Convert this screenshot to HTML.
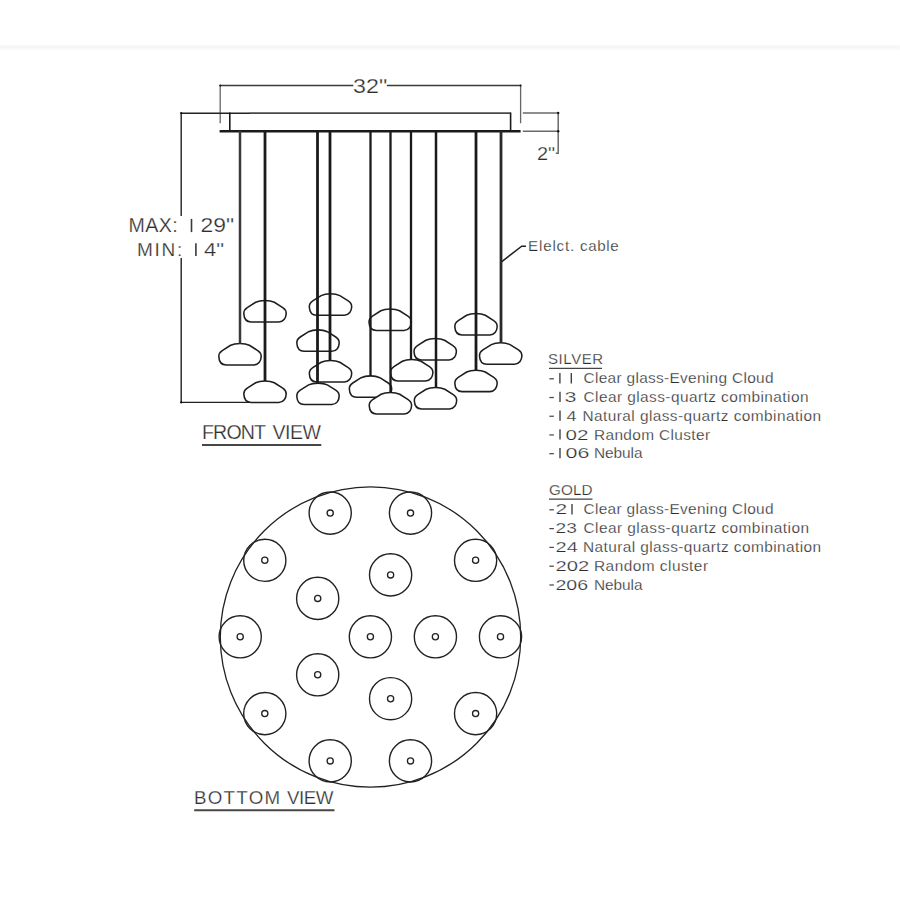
<!DOCTYPE html>
<html><head><meta charset="utf-8"><style>
html,body{margin:0;padding:0;background:#fff;width:900px;height:900px;overflow:hidden}
svg{display:block}
text{font-family:"Liberation Sans",sans-serif;stroke:#fff;stroke-width:0.25px}
</style></head><body>
<svg width="900" height="900" viewBox="0 0 900 900">
<defs><linearGradient id="bg1" x1="0" y1="0" x2="0" y2="1"><stop offset="0" stop-color="#f5f5f5"/><stop offset="0.5" stop-color="#f6f6f6"/><stop offset="1" stop-color="#fcfcfc"/></linearGradient></defs>
<rect x="0" y="45.5" width="900" height="4.5" fill="url(#bg1)"/>
<path d="M220.2 85.5 H353.3 M386.9 85.5 H520.7" stroke="#3a3a3a" stroke-width="1.3" fill="none"/>
<path d="M220.2 85 V123.3 M520.6 85 V123.3" stroke="#666" stroke-width="1.3" fill="none"/>
<path d="M180.5 113.2 H250 M181.2 113.2 V216 M181.2 258 V402.4 M180.5 402.4 H262" stroke="#222" stroke-width="1.4" fill="none"/>
<path d="M522.8 112.9 H558.2 M522.8 131.3 H558.2 M558.2 112.9 V153.3 H555.8" stroke="#6a6a6a" stroke-width="1.5" fill="none"/>
<circle cx="558.2" cy="113" r="1.2" fill="#111"/><circle cx="558.2" cy="131.3" r="1.2" fill="#111"/><circle cx="220.2" cy="85.5" r="1" fill="#111"/><circle cx="181.2" cy="113.2" r="1.1" fill="#111"/><circle cx="181.2" cy="402.4" r="1.1" fill="#111"/><circle cx="520.6" cy="85.5" r="1" fill="#111"/>
<path d="M501.5 261.8 L521.7 246.2 H526" stroke="#222" stroke-width="1.5" fill="none"/>
<g stroke="#1a1a1a" fill="none">
<path d="M249.5 113.2 H510.6" stroke="#484848" stroke-width="1.8"/>
<path d="M229.8 131 V112.5 M510.6 112.5 V131" stroke-width="1.6"/>
<path d="M219.6 131.3 H520.6" stroke-width="2.4"/>
</g>
<g stroke="#1e1e1e" stroke-width="1.55" fill="#fff">
<path transform="translate(243.85 300.50)" d="M21.15 0 C25 0 27.5 0.3 30.5 1.8 L38.9 7.1 C41.7 8.9 42.5 11 42.3 13.5 C42.1 17 40 21.4 35 21.4 L7.3 21.4 C2.3 21.4 0.2 17.4 0 13.4 C-0.2 10.9 0.6 8.9 3.4 7.1 L11.8 1.8 C14.8 0.3 17.3 0 21.15 0 Z"/>
<path transform="translate(218.85 343.50)" d="M21.15 0 C25 0 27.5 0.3 30.5 1.8 L38.9 7.1 C41.7 8.9 42.5 11 42.3 13.5 C42.1 17 40 21.4 35 21.4 L7.3 21.4 C2.3 21.4 0.2 17.4 0 13.4 C-0.2 10.9 0.6 8.9 3.4 7.1 L11.8 1.8 C14.8 0.3 17.3 0 21.15 0 Z"/>
<path transform="translate(243.85 381.00)" d="M21.15 0 C25 0 27.5 0.3 30.5 1.8 L38.9 7.1 C41.7 8.9 42.5 11 42.3 13.5 C42.1 17 40 21.4 35 21.4 L7.3 21.4 C2.3 21.4 0.2 17.4 0 13.4 C-0.2 10.9 0.6 8.9 3.4 7.1 L11.8 1.8 C14.8 0.3 17.3 0 21.15 0 Z"/>
<path transform="translate(309.35 293.80)" d="M21.15 0 C25 0 27.5 0.3 30.5 1.8 L38.9 7.1 C41.7 8.9 42.5 11 42.3 13.5 C42.1 17 40 21.4 35 21.4 L7.3 21.4 C2.3 21.4 0.2 17.4 0 13.4 C-0.2 10.9 0.6 8.9 3.4 7.1 L11.8 1.8 C14.8 0.3 17.3 0 21.15 0 Z"/>
<path transform="translate(296.85 329.90)" d="M21.15 0 C25 0 27.5 0.3 30.5 1.8 L38.9 7.1 C41.7 8.9 42.5 11 42.3 13.5 C42.1 17 40 21.4 35 21.4 L7.3 21.4 C2.3 21.4 0.2 17.4 0 13.4 C-0.2 10.9 0.6 8.9 3.4 7.1 L11.8 1.8 C14.8 0.3 17.3 0 21.15 0 Z"/>
<path transform="translate(309.35 360.50)" d="M21.15 0 C25 0 27.5 0.3 30.5 1.8 L38.9 7.1 C41.7 8.9 42.5 11 42.3 13.5 C42.1 17 40 21.4 35 21.4 L7.3 21.4 C2.3 21.4 0.2 17.4 0 13.4 C-0.2 10.9 0.6 8.9 3.4 7.1 L11.8 1.8 C14.8 0.3 17.3 0 21.15 0 Z"/>
<path transform="translate(296.85 383.10)" d="M21.15 0 C25 0 27.5 0.3 30.5 1.8 L38.9 7.1 C41.7 8.9 42.5 11 42.3 13.5 C42.1 17 40 21.4 35 21.4 L7.3 21.4 C2.3 21.4 0.2 17.4 0 13.4 C-0.2 10.9 0.6 8.9 3.4 7.1 L11.8 1.8 C14.8 0.3 17.3 0 21.15 0 Z"/>
<path transform="translate(369.05 309.00)" d="M21.15 0 C25 0 27.5 0.3 30.5 1.8 L38.9 7.1 C41.7 8.9 42.5 11 42.3 13.5 C42.1 17 40 21.4 35 21.4 L7.3 21.4 C2.3 21.4 0.2 17.4 0 13.4 C-0.2 10.9 0.6 8.9 3.4 7.1 L11.8 1.8 C14.8 0.3 17.3 0 21.15 0 Z"/>
<path transform="translate(414.05 338.50)" d="M21.15 0 C25 0 27.5 0.3 30.5 1.8 L38.9 7.1 C41.7 8.9 42.5 11 42.3 13.5 C42.1 17 40 21.4 35 21.4 L7.3 21.4 C2.3 21.4 0.2 17.4 0 13.4 C-0.2 10.9 0.6 8.9 3.4 7.1 L11.8 1.8 C14.8 0.3 17.3 0 21.15 0 Z"/>
<path transform="translate(454.85 313.50)" d="M21.15 0 C25 0 27.5 0.3 30.5 1.8 L38.9 7.1 C41.7 8.9 42.5 11 42.3 13.5 C42.1 17 40 21.4 35 21.4 L7.3 21.4 C2.3 21.4 0.2 17.4 0 13.4 C-0.2 10.9 0.6 8.9 3.4 7.1 L11.8 1.8 C14.8 0.3 17.3 0 21.15 0 Z"/>
<path transform="translate(479.55 342.80)" d="M21.15 0 C25 0 27.5 0.3 30.5 1.8 L38.9 7.1 C41.7 8.9 42.5 11 42.3 13.5 C42.1 17 40 21.4 35 21.4 L7.3 21.4 C2.3 21.4 0.2 17.4 0 13.4 C-0.2 10.9 0.6 8.9 3.4 7.1 L11.8 1.8 C14.8 0.3 17.3 0 21.15 0 Z"/>
<path transform="translate(390.55 359.50)" d="M21.15 0 C25 0 27.5 0.3 30.5 1.8 L38.9 7.1 C41.7 8.9 42.5 11 42.3 13.5 C42.1 17 40 21.4 35 21.4 L7.3 21.4 C2.3 21.4 0.2 17.4 0 13.4 C-0.2 10.9 0.6 8.9 3.4 7.1 L11.8 1.8 C14.8 0.3 17.3 0 21.15 0 Z"/>
<path transform="translate(349.35 375.90)" d="M21.15 0 C25 0 27.5 0.3 30.5 1.8 L38.9 7.1 C41.7 8.9 42.5 11 42.3 13.5 C42.1 17 40 21.4 35 21.4 L7.3 21.4 C2.3 21.4 0.2 17.4 0 13.4 C-0.2 10.9 0.6 8.9 3.4 7.1 L11.8 1.8 C14.8 0.3 17.3 0 21.15 0 Z"/>
<path transform="translate(369.25 392.50)" d="M21.15 0 C25 0 27.5 0.3 30.5 1.8 L38.9 7.1 C41.7 8.9 42.5 11 42.3 13.5 C42.1 17 40 21.4 35 21.4 L7.3 21.4 C2.3 21.4 0.2 17.4 0 13.4 C-0.2 10.9 0.6 8.9 3.4 7.1 L11.8 1.8 C14.8 0.3 17.3 0 21.15 0 Z"/>
<path transform="translate(414.35 387.50)" d="M21.15 0 C25 0 27.5 0.3 30.5 1.8 L38.9 7.1 C41.7 8.9 42.5 11 42.3 13.5 C42.1 17 40 21.4 35 21.4 L7.3 21.4 C2.3 21.4 0.2 17.4 0 13.4 C-0.2 10.9 0.6 8.9 3.4 7.1 L11.8 1.8 C14.8 0.3 17.3 0 21.15 0 Z"/>
<path transform="translate(454.85 370.20)" d="M21.15 0 C25 0 27.5 0.3 30.5 1.8 L38.9 7.1 C41.7 8.9 42.5 11 42.3 13.5 C42.1 17 40 21.4 35 21.4 L7.3 21.4 C2.3 21.4 0.2 17.4 0 13.4 C-0.2 10.9 0.6 8.9 3.4 7.1 L11.8 1.8 C14.8 0.3 17.3 0 21.15 0 Z"/>
</g>
<g stroke="#1a1a1a" stroke-width="2.8" fill="none">
<path d="M240 131 V343.6" stroke-width="2.5" stroke="#3a3a3a"/>
<path d="M265 131 V381.1" stroke-width="2.8" stroke="#1a1a1a"/>
<path d="M317.5 131 V383.20000000000005" stroke-width="2.8" stroke="#1a1a1a"/>
<path d="M330 131 V360.6" stroke-width="2.8" stroke="#1a1a1a"/>
<path d="M370.5 131 V376.0" stroke-width="2.3" stroke="#1a1a1a"/>
<path d="M390.5 131 V392.6" stroke-width="2.3" stroke="#1a1a1a"/>
<path d="M411 131 V359.6" stroke-width="2.3" stroke="#1a1a1a"/>
<path d="M436 131 V387.6" stroke-width="2.5" stroke="#1a1a1a"/>
<path d="M476 131 V370.3" stroke-width="2.8" stroke="#1a1a1a"/>
<path d="M501 131 V342.90000000000003" stroke-width="2.8" stroke="#2a2a2a"/>
</g>
<g stroke="#222" fill="none">
<circle cx="370.5" cy="637" r="150.2" stroke-width="1.3"/>
<circle cx="330.2" cy="513.1" r="21.1" stroke-width="1.4"/>
<circle cx="330.2" cy="513.1" r="3.1" stroke-width="1.3"/>
<circle cx="410.5" cy="513.1" r="21.1" stroke-width="1.4"/>
<circle cx="410.5" cy="513.1" r="3.1" stroke-width="1.3"/>
<circle cx="264.8" cy="560.3" r="21.1" stroke-width="1.4"/>
<circle cx="264.8" cy="560.3" r="3.1" stroke-width="1.3"/>
<circle cx="475.6" cy="560.3" r="21.1" stroke-width="1.4"/>
<circle cx="475.6" cy="560.3" r="3.1" stroke-width="1.3"/>
<circle cx="390.6" cy="574.9" r="21.1" stroke-width="1.4"/>
<circle cx="390.6" cy="574.9" r="3.1" stroke-width="1.3"/>
<circle cx="317.7" cy="598.4" r="21.1" stroke-width="1.4"/>
<circle cx="317.7" cy="598.4" r="3.1" stroke-width="1.3"/>
<circle cx="240.2" cy="636.8" r="21.1" stroke-width="1.4"/>
<circle cx="240.2" cy="636.8" r="3.1" stroke-width="1.3"/>
<circle cx="370.4" cy="636.8" r="21.1" stroke-width="1.4"/>
<circle cx="370.4" cy="636.8" r="3.1" stroke-width="1.3"/>
<circle cx="435.4" cy="636.8" r="21.1" stroke-width="1.4"/>
<circle cx="435.4" cy="636.8" r="3.1" stroke-width="1.3"/>
<circle cx="500.5" cy="636.8" r="21.1" stroke-width="1.4"/>
<circle cx="500.5" cy="636.8" r="3.1" stroke-width="1.3"/>
<circle cx="317.7" cy="674.8" r="21.1" stroke-width="1.4"/>
<circle cx="317.7" cy="674.8" r="3.1" stroke-width="1.3"/>
<circle cx="390.6" cy="698.7" r="21.1" stroke-width="1.4"/>
<circle cx="390.6" cy="698.7" r="3.1" stroke-width="1.3"/>
<circle cx="264.8" cy="713.6" r="21.1" stroke-width="1.4"/>
<circle cx="264.8" cy="713.6" r="3.1" stroke-width="1.3"/>
<circle cx="475.6" cy="713.6" r="21.1" stroke-width="1.4"/>
<circle cx="475.6" cy="713.6" r="3.1" stroke-width="1.3"/>
<circle cx="330.2" cy="760.9" r="21.1" stroke-width="1.4"/>
<circle cx="330.2" cy="760.9" r="3.1" stroke-width="1.3"/>
<circle cx="410.5" cy="760.9" r="21.1" stroke-width="1.4"/>
<circle cx="410.5" cy="760.9" r="3.1" stroke-width="1.3"/>
</g>
<g stroke="#474747" stroke-width="1.9">
<path d="M202 445 H321.3"/>
<path d="M194.2 810.2 H334.5"/>
</g>
<g stroke="#444" stroke-width="1.2">
<path d="M549 368.4 H602"/>
<path d="M549 499.2 H592.5"/>
</g>
<text x="353.0" y="92.5" font-size="20.64" fill="#2e2e2e" textLength="34.15" lengthAdjust="spacingAndGlyphs">32&quot;</text>
<text x="537.0" y="159.8" font-size="19.04" fill="#2e2e2e" textLength="18.17" lengthAdjust="spacingAndGlyphs">2&quot;</text>
<text x="128.5" y="232.1" font-size="19.62" fill="#2e2e2e" textLength="49.3" lengthAdjust="spacing">MAX:</text>
<path d="M191.5 218.9 V232.1" stroke="#3a3a3a" stroke-width="1.6"/>
<text x="200.5" y="232.1" font-size="19.62" fill="#2e2e2e" textLength="33.61" lengthAdjust="spacingAndGlyphs">29&quot;</text>
<text x="137.0" y="256.1" font-size="19.04" fill="#2e2e2e" textLength="45.33" lengthAdjust="spacing">MIN:</text>
<path d="M195.9 243.3 V256.1" stroke="#3a3a3a" stroke-width="1.6"/>
<text x="204.0" y="256.1" font-size="19.04" fill="#2e2e2e" textLength="20.08" lengthAdjust="spacingAndGlyphs">4&quot;</text>
<text x="528.0" y="251.1" font-size="15.12" fill="#2e2e2e" textLength="46.29" lengthAdjust="spacing">Elelct.</text>
<text x="580.0" y="251.1" font-size="15.12" fill="#2e2e2e" textLength="38.57" lengthAdjust="spacing">cable</text>
<text x="202.0" y="439.0" font-size="19.62" fill="#2e2e2e" textLength="64.04" lengthAdjust="spacing">FRONT</text>
<text x="272.5" y="439.0" font-size="19.62" fill="#2e2e2e" textLength="48.56" lengthAdjust="spacing">VIEW</text>
<text x="194.0" y="804.4" font-size="18.75" fill="#2e2e2e" textLength="86.16" lengthAdjust="spacing">BOTTOM</text>
<text x="287.0" y="804.4" font-size="18.75" fill="#2e2e2e" textLength="46.51" lengthAdjust="spacing">VIEW</text>
<text x="548.0" y="363.8" font-size="14.97" fill="#2e2e2e" textLength="55.13" lengthAdjust="spacing">SILVER</text>
<text x="549.0" y="495.4" font-size="15.26" fill="#2e2e2e" textLength="43.55" lengthAdjust="spacing">GOLD</text>
<path d="M549.4 378.8 H553.9" stroke="#4a4a4a" stroke-width="1.25"/>
<path d="M559.9 373.1 V383.4" stroke="#3a3a3a" stroke-width="1.35"/>
<path d="M571.3 373.1 V383.4" stroke="#3a3a3a" stroke-width="1.35"/>
<text x="583.5" y="383.4" font-size="15.41" fill="#2e2e2e" textLength="190.02" lengthAdjust="spacing">Clear glass-Evening Cloud</text>
<path d="M549.4 397.52 H553.9" stroke="#4a4a4a" stroke-width="1.25"/>
<path d="M560 391.82 V402.12" stroke="#3a3a3a" stroke-width="1.35"/>
<text x="564.5" y="402.12" font-size="15.41" fill="#2e2e2e" textLength="11.94" lengthAdjust="spacingAndGlyphs">3</text>
<text x="583.5" y="402.12" font-size="15.41" fill="#2e2e2e" textLength="225.01" lengthAdjust="spacing">Clear glass-quartz combination</text>
<path d="M549.4 416.24 H553.9" stroke="#4a4a4a" stroke-width="1.25"/>
<path d="M560 410.54 V420.84" stroke="#3a3a3a" stroke-width="1.35"/>
<text x="566.5" y="420.84" font-size="15.41" fill="#2e2e2e" textLength="10.07" lengthAdjust="spacingAndGlyphs">4</text>
<text x="582.5" y="420.84" font-size="15.41" fill="#2e2e2e" textLength="238.52" lengthAdjust="spacing">Natural glass-quartz combination</text>
<path d="M549.4 434.96 H553.9" stroke="#4a4a4a" stroke-width="1.25"/>
<path d="M560 429.26 V439.56" stroke="#3a3a3a" stroke-width="1.35"/>
<text x="565.5" y="439.56" font-size="15.41" fill="#2e2e2e" textLength="22.86" lengthAdjust="spacingAndGlyphs">02</text>
<text x="594.0" y="439.56" font-size="15.41" fill="#2e2e2e" textLength="116.03" lengthAdjust="spacing">Random Cluster</text>
<path d="M549.4 453.68 H553.9" stroke="#4a4a4a" stroke-width="1.25"/>
<path d="M560 447.98 V458.28" stroke="#3a3a3a" stroke-width="1.35"/>
<text x="565.5" y="458.28" font-size="15.41" fill="#2e2e2e" textLength="23.82" lengthAdjust="spacingAndGlyphs">06</text>
<text x="594.0" y="458.28" font-size="15.41" fill="#2e2e2e" textLength="48.57" lengthAdjust="spacing">Nebula</text>
<path d="M549.4 509.8 H553.9" stroke="#4a4a4a" stroke-width="1.25"/>
<text x="555.5" y="514.4" font-size="15.41" fill="#2e2e2e" textLength="11.65" lengthAdjust="spacingAndGlyphs">2</text>
<path d="M572 504.1 V514.4" stroke="#3a3a3a" stroke-width="1.35"/>
<text x="583.5" y="514.4" font-size="15.41" fill="#2e2e2e" textLength="190.02" lengthAdjust="spacing">Clear glass-Evening Cloud</text>
<path d="M549.4 528.6 H553.9" stroke="#4a4a4a" stroke-width="1.25"/>
<text x="555.5" y="533.2" font-size="15.41" fill="#2e2e2e" textLength="21.27" lengthAdjust="spacingAndGlyphs">23</text>
<text x="583.5" y="533.2" font-size="15.41" fill="#2e2e2e" textLength="225.52" lengthAdjust="spacing">Clear glass-quartz combination</text>
<path d="M549.4 547.4 H553.9" stroke="#4a4a4a" stroke-width="1.25"/>
<text x="555.5" y="552.0" font-size="15.41" fill="#2e2e2e" textLength="22.28" lengthAdjust="spacingAndGlyphs">24</text>
<text x="583.0" y="552.0" font-size="15.41" fill="#2e2e2e" textLength="238.03" lengthAdjust="spacing">Natural glass-quartz combination</text>
<path d="M549.4 566.2 H553.9" stroke="#4a4a4a" stroke-width="1.25"/>
<text x="555.5" y="570.8" font-size="15.41" fill="#2e2e2e" textLength="33.71" lengthAdjust="spacingAndGlyphs">202</text>
<text x="594.0" y="570.8" font-size="15.41" fill="#2e2e2e" textLength="114.02" lengthAdjust="spacing">Random cluster</text>
<path d="M549.4 585.0 H553.9" stroke="#4a4a4a" stroke-width="1.25"/>
<text x="555.5" y="589.6" font-size="15.41" fill="#2e2e2e" textLength="32.62" lengthAdjust="spacingAndGlyphs">206</text>
<text x="594.0" y="589.6" font-size="15.41" fill="#2e2e2e" textLength="48.57" lengthAdjust="spacing">Nebula</text>
</svg>
</body></html>
